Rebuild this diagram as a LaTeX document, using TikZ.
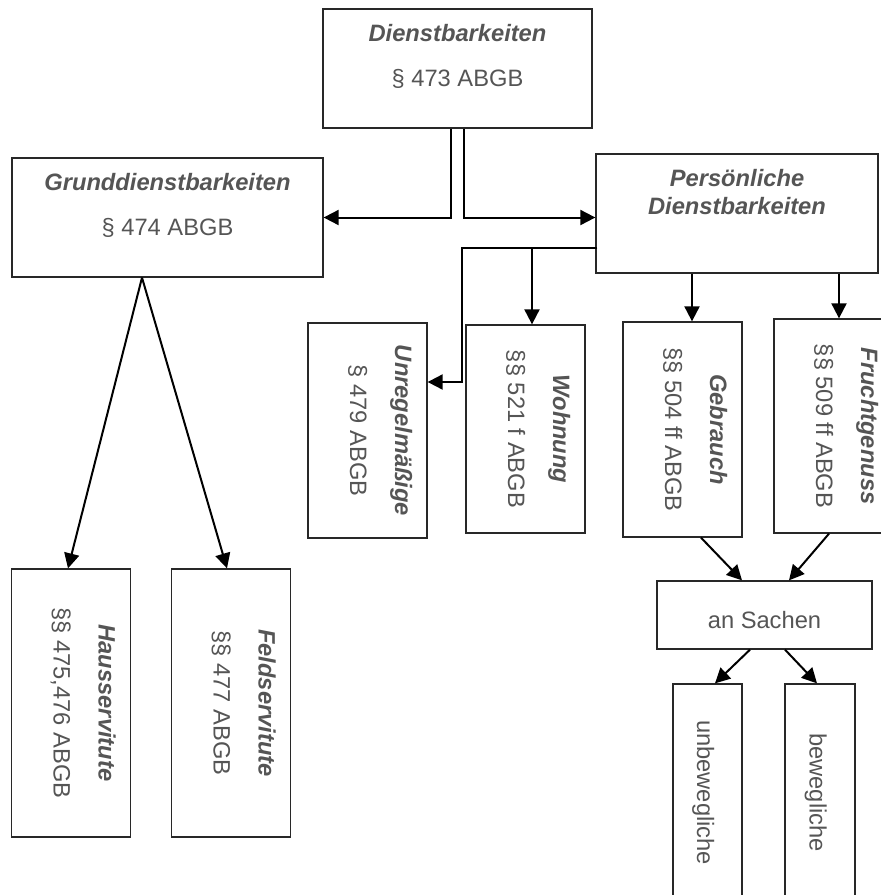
\documentclass[tikz,border=0pt]{standalone}
\usepackage{fontspec}
\setmainfont{Liberation Sans}
\usetikzlibrary{arrows.meta}

\definecolor{txtgray}{RGB}{85,85,85}
\definecolor{boxline}{RGB}{40,40,40}

\tikzset{
  box/.style={draw=boxline,line width=1.3pt,inner sep=0pt,text=txtgray,font=\fontsize{23.7}{28}\selectfont},
  twoline/.style={text height=32pt,text depth=87pt,minimum height=119pt},
  oneline/.style={text height=#1,text depth=0pt},
  arr/.style={line width=2pt,-{Triangle[length=15pt,width=15pt]}}
}

\newcommand{\titleref}[2]{\begin{tabular}[t]{@{}c@{}}\textbf{\textit{#1}}\\[17pt]#2\end{tabular}}

\begin{document}
\begin{tikzpicture}[x=1pt,y=-1pt]

\useasboundingbox (0,0) rectangle (881,895);

\node[box,twoline,minimum width=269pt] (dienst) at (457.5,68.5) {\titleref{Dienstbarkeiten}{§ 473 ABGB}};
\node[box,twoline,minimum width=311pt] (grund) at (167.5,217.5) {\titleref{Grunddienstbarkeiten}{§ 474 ABGB}};
\node[box,twoline,minimum width=282pt] (pers) at (737,213.5) {\begin{tabular}[t]{@{}c@{}}\textbf{\textit{Persönliche}}\\\textbf{\textit{Dienstbarkeiten}}\end{tabular}};

\node[box,twoline,rotate=-90,minimum width=215pt] (unregel) at (367.5,430.5) {\titleref{Unregelmäßige}{§ 479 ABGB}};
\node[box,twoline,rotate=-90,minimum width=208pt] (wohnung) at (525.5,429) {\titleref{Wohnung}{§§ 521 f ABGB}};
\node[box,twoline,rotate=-90,minimum width=215pt] (gebrauch) at (682.5,429.5) {\titleref{Gebrauch}{§§ 504 ff ABGB}};
\node[box,twoline,rotate=-90,minimum width=214pt] (frucht) at (833.5,426) {\titleref{Fruchtgenuss}{§§ 509 ff ABGB}};

\node[box,twoline,rotate=-90,minimum width=268pt,minimum height=118pt] (haus) at (71,703) {\titleref{Hausservitute}{§§ 475,476 ABGB}};
\node[box,twoline,rotate=-90,minimum width=268pt,minimum height=118pt] (feld) at (231,703) {\titleref{Feldservitute}{§§ 477 ABGB}};

\node[box,oneline=26pt,minimum width=215pt,minimum height=68pt] (sachen) at (764.5,615) {an Sachen};
\node[box,oneline=21pt,rotate=-90,minimum width=217pt,minimum height=69pt] (unbeweg) at (707.5,792.5) {unbewegliche};
\node[box,oneline=21pt,rotate=-90,minimum width=217pt,minimum height=70pt] (beweg) at (820,792.5) {bewegliche};

\draw[arr] ([xshift=-7pt]dienst.south) |- (grund.east);
\draw[arr] ([xshift=6pt]dienst.south) |- (pers.west |- grund.east);

\coordinate (pw) at ([xshift=2pt,yshift=-34.5pt]pers.west);
\coordinate (ukink) at (462,382);
\draw[arr] (pw) -| (ukink) -- (ukink -| unregel.north);
\draw[arr] ([xshift=6.5pt]wohnung.west |- pw) -- ([xshift=6.5pt]wohnung.west);
\draw[arr] ([xshift=9.5pt]gebrauch.west |- pers.south) -- ([xshift=9.5pt]gebrauch.west);
\draw[arr] ([xshift=5.5pt]frucht.west |- pers.south) -- ([xshift=5.5pt]frucht.west);

\draw[arr] ([xshift=-25.5pt]grund.south) -- ([xshift=-3pt]haus.west);
\draw[arr] ([xshift=-25.5pt]grund.south) -- ([xshift=-4pt]feld.west);

\draw[arr] ([xshift=18.5pt]gebrauch.east) -- ([xshift=-22.5pt]sachen.north);
\draw[arr] ([xshift=-4.5pt]frucht.east) -- ([xshift=24.5pt]sachen.north);
\draw[arr] ([xshift=-14.5pt]sachen.south) -- ([xshift=7.5pt]unbeweg.west);
\draw[arr] ([xshift=20.5pt]sachen.south) -- ([xshift=-3pt]beweg.west);

\end{tikzpicture}
\end{document}
